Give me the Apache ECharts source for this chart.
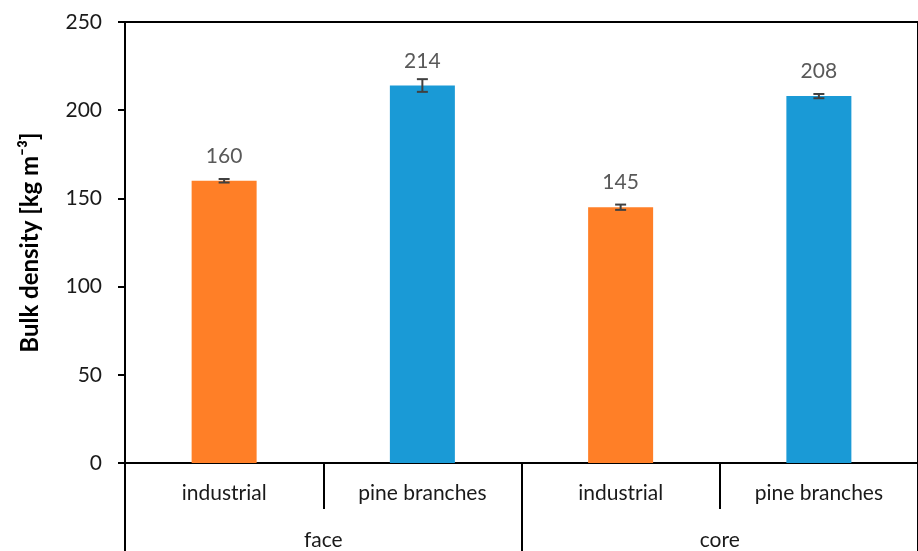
<!DOCTYPE html>
<html>
<head>
<meta charset="utf-8">
<script src="https://cdn.jsdelivr.net/npm/echarts@6/dist/echarts.min.js"></script>
<style>
  html, body { margin: 0; padding: 0; background: #fff; }
  #chart { width: 918px; height: 551px; }
</style>
</head>
<body>
<div id="chart"></div>
<script>
// Bulk density by particle type, grouped by board layer
const materials = ['industrial', 'pine branches', 'industrial', 'pine branches'];
const layers = ['face', 'core'];
const density = [160, 214, 145, 208];
const densityErr = [1, 3.6, 1.5, 1.2];
const yTicks = { min: 0, max: 250, step: 50 };

const barColors = { 'industrial': '#FF7F27', 'pine branches': '#1A9AD6' };
const FONT = 'Lato, "Open Sans", sans-serif';
const FS = 21;

const chart = echarts.init(document.getElementById('chart'));

const gridBox = { left: 125, right: 0, top: 22, bottom: 88 };

chart.setOption({
  animation: false,
  grid: Object.assign({ show: true, borderColor: '#000', borderWidth: 2, backgroundColor: 'transparent' }, gridBox),
  xAxis: [
    {
      type: 'category',
      data: materials,
      position: 'bottom',
      axisLine: { show: true, lineStyle: { color: '#000', width: 2 } },
      axisTick: { show: true, interval: 0, alignWithLabel: false, length: 46, lineStyle: { color: '#000', width: 2 } },
      axisLabel: { interval: 0, margin: 20, color: '#1a1a1a', fontSize: FS, fontFamily: FONT }
    },
    {
      type: 'category',
      data: layers,
      position: 'bottom',
      axisLine: { show: false },
      axisTick: { show: true, interval: 0, alignWithLabel: false, length: 90, lineStyle: { color: '#000', width: 2 } },
      axisLabel: { interval: 0, margin: 67, color: '#1a1a1a', fontSize: FS, fontFamily: FONT }
    }
  ],
  yAxis: {
    type: 'value',
    min: yTicks.min,
    max: yTicks.max,
    interval: yTicks.step,
    name: 'Bulk density [kg m⁻³]',
    nameLocation: 'middle',
    nameGap: 83,
    nameTextStyle: { fontSize: 24, fontWeight: 'bold', color: '#000', fontFamily: FONT },
    axisLine: { show: true, lineStyle: { color: '#000', width: 2 } },
    axisTick: { show: true, length: 7, lineStyle: { color: '#000', width: 2 } },
    axisLabel: { margin: 23, color: '#1a1a1a', fontSize: FS, fontFamily: FONT },
    splitLine: { show: false }
  },
  series: [
    {
      type: 'bar',
      xAxisIndex: 0,
      barWidth: 65,
      data: density.map((v, i) => ({ value: v, itemStyle: { color: barColors[materials[i]] } })),
      label: {
        show: true,
        position: 'top',
        distance: 14,
        color: '#595959',
        fontSize: FS,
        fontFamily: FONT
      },
      z: 2
    },
    {
      type: 'custom',
      xAxisIndex: 0,
      data: density.map((v, i) => [i, v - densityErr[i], v + densityErr[i]]),
      renderItem: function (params, api) {
        const x = api.coord([api.value(0), 0])[0];
        const lo = api.coord([api.value(0), api.value(1)])[1];
        const hi = api.coord([api.value(0), api.value(2)])[1];
        const half = 5.5;
        const style = { stroke: '#404040', lineWidth: 2 };
        return {
          type: 'group',
          children: [
            { type: 'line', shape: { x1: x, y1: lo, x2: x, y2: hi }, style: style },
            { type: 'line', shape: { x1: x - half, y1: hi, x2: x + half, y2: hi }, style: style },
            { type: 'line', shape: { x1: x - half, y1: lo, x2: x + half, y2: lo }, style: style }
          ]
        };
      },
      z: 3
    }
  ]
});
</script>
</body>
</html>
